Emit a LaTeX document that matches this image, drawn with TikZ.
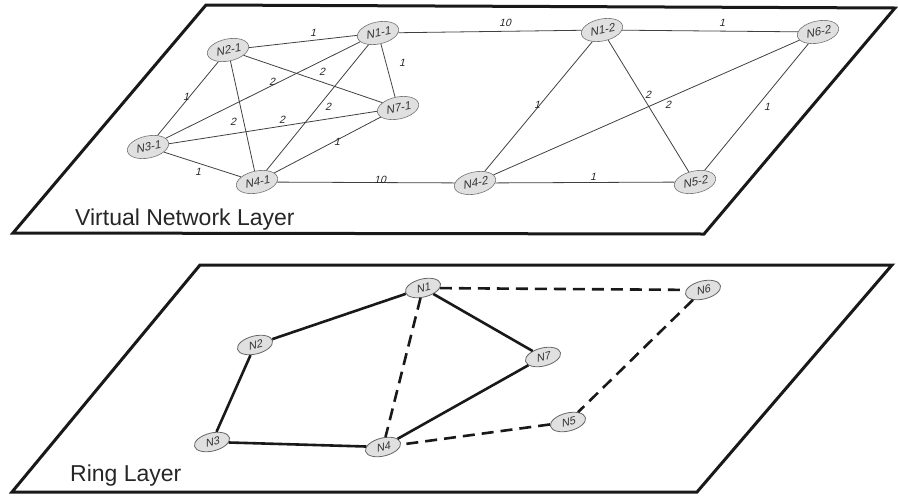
\documentclass[tikz,border=0pt]{standalone}
\usepackage{fontspec}
\setmainfont{Liberation Sans}
\newfontfamily\slfont[FakeSlant=0.25]{Liberation Sans}
\usetikzlibrary{shapes.geometric}
\begin{document}
\begin{tikzpicture}[x=1pt,y=-1pt,
  plane/.style={draw=black!90,line width=3pt,line join=miter},
  vnode/.style={ellipse,draw=black!55,fill=black!12,line width=0.6pt,minimum width=42pt,minimum height=22pt,inner sep=0pt,rotate=12,font={\slfont\fontsize{11.5}{11.5}\selectfont},text=black!80},
  rnode/.style={ellipse,draw=black!60,fill=black!12,line width=0.8pt,minimum width=36pt,minimum height=18pt,inner sep=0pt,rotate=14,font={\slfont\fontsize{11}{11}\selectfont},text=black!80},
  vedge/.style={draw=black!75,line width=0.8pt},
  wlab/.style={font={\slfont\fontsize{10.5}{10.5}\selectfont},inner sep=0pt,text=black!85},
  redge/.style={draw=black!90,line width=2.6pt},
  dedge/.style={draw=black!90,line width=2.6pt,dash pattern=on 12pt off 7pt},
  layerlab/.style={font=\fontsize{23}{23}\selectfont,anchor=base west,inner sep=0pt,text=black!85}
]
\useasboundingbox (0,0) rectangle (898,496);
% planes
\draw[plane] (206,5) -- (895,8) -- (704,234) -- (13,233) -- cycle;
\draw[plane] (200,265) -- (892,265) -- (697,492) -- (12,492) -- cycle;
\node[layerlab] (vl) at (75,225) {Virtual Network Layer};
\node[layerlab] (rl) at (70,481) {Ring Layer};
% upper nodes
\node[vnode] (n21) at (228,50) {N2-1};
\node[vnode] (n11) at (378,33) {N1-1};
\node[vnode] (n71) at (398,108) {N7-1};
\node[vnode] (n31) at (148,147) {N3-1};
\node[vnode] (n41) at (257,182) {N4-1};
\node[vnode] (n12) at (602,30) {N1-2};
\node[vnode] (n62) at (818,32) {N6-2};
\node[vnode] (n42) at (475,183) {N4-2};
\node[vnode] (n52) at (695,182) {N5-2};
% upper edges
\draw[vedge] (n21) -- (n11);
\draw[vedge] (n21) -- (n31);
\draw[vedge] (n21) -- (n41);
\draw[vedge] (n21) -- (n71);
\draw[vedge] (n11) -- (n71);
\draw[vedge] (n11) -- (n31);
\draw[vedge] (n11) -- (n41);
\draw[vedge] (n31) -- (n71);
\draw[vedge] (n31) -- (n41);
\draw[vedge] (n41) -- (n71);
\draw[vedge] (n11) -- (n12);
\draw[vedge] (n41) -- (n42);
\draw[vedge] (n12) -- (n62);
\draw[vedge] (n12) -- (n42);
\draw[vedge] (n12) -- (n52);
\draw[vedge] (n62) -- (n42);
\draw[vedge] (n62) -- (n52);
\draw[vedge] (n42) -- (n52);
% weights
\node[wlab] (w1) at (313,33) {1};
\node[wlab] (w2) at (402,63) {1};
\node[wlab] (w3) at (322,72) {2};
\node[wlab] (w4) at (272,82) {2};
\node[wlab] (w5) at (328,107) {2};
\node[wlab] (w6) at (233,122) {2};
\node[wlab] (w7) at (282,120) {2};
\node[wlab] (w8) at (186,97) {1};
\node[wlab] (w9) at (337,142) {1};
\node[wlab] (w10) at (198,172) {1};
\node[wlab] (w11) at (380,180) {10};
\node[wlab] (w12) at (505,23) {10};
\node[wlab] (w13) at (722,23) {1};
\node[wlab] (w14) at (537,105) {1};
\node[wlab] (w15) at (648,95) {2};
\node[wlab] (w16) at (668,105) {2};
\node[wlab] (w17) at (767,107) {1};
\node[wlab] (w18) at (593,177) {1};
% lower nodes
\node[rnode] (r1) at (423,288) {N1};
\node[rnode] (r2) at (255,345) {N2};
\node[rnode] (r3) at (212,442) {N3};
\node[rnode] (r4) at (383,447) {N4};
\node[rnode] (r7) at (543,357) {N7};
\node[rnode] (r6) at (703,290) {N6};
\node[rnode] (r5) at (568,422) {N5};
% lower edges
\draw[redge] (r1) -- (r2);
\draw[redge] (r2) -- (r3);
\draw[redge] (r3) -- (r4);
\draw[redge] (r4) -- (r7);
\draw[redge] (r7) -- (r1);
\draw[dedge] (r1) -- (r4);
\draw[dedge] (r1) -- (r6);
\draw[dedge] (r6) -- (r5);
\draw[dedge] (r5) -- (r4);
\end{tikzpicture}
\end{document}
